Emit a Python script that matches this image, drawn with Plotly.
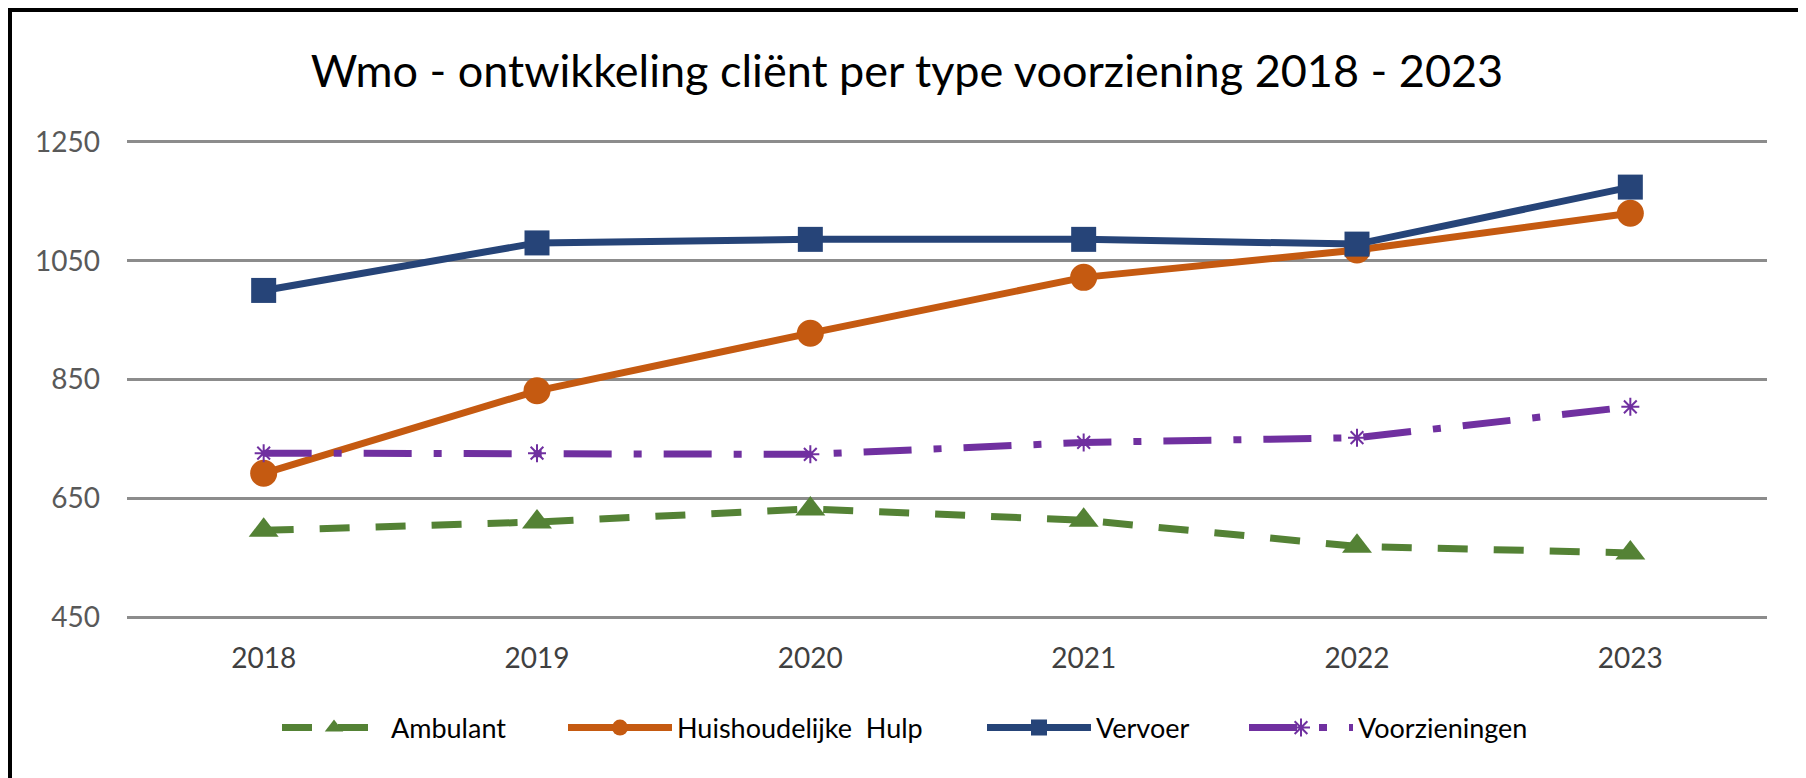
import plotly.graph_objects as go

years = ["2018", "2019", "2020", "2021", "2022", "2023"]
ambulant = [596, 610, 632, 613, 569, 558]
huishoudelijke_hulp = [692, 831, 928, 1022, 1068, 1130]
vervoer = [1000, 1080, 1086, 1086, 1078, 1174]
voorzieningen = [726, 726, 724, 744, 752, 804]
y_ticks = [450, 650, 850, 1050, 1250]

title_text = "Wmo - ontwikkeling cliënt per type voorziening 2018 - 2023"

GREEN = "#548235"
ORANGE = "#C55A11"
BLUE = "#264478"
PURPLE = "#7030A0"
FONT = "Lato"

# the page body has an 8px margin, so the figure starts at screen (8, 8)
OFF = 8
W, H = 1806 - OFF, 778 - OFF
# screen coordinates of the plot area (range 445..1255)
SX0, SX1 = 127, 1767
SY_TOP, SY_BOT = 139, 620
L = SX0 - OFF
R = W - (SX1 - OFF)
T = SY_TOP - OFF
B = H - (SY_BOT - OFF)
PW = SX1 - SX0
PH = SY_BOT - SY_TOP

def px_x(p):
    return (p - SX0) / PW

def px_y(p):
    return (SY_BOT - p) / PH

fig = go.Figure()
fig.add_trace(go.Scatter(
    x=years, y=ambulant, name="Ambulant", mode="lines+markers",
    line=dict(color=GREEN, width=7, dash="30px,26px"),
    marker=dict(symbol="triangle-up", size=26, color=GREEN),
    legend="legend",
))
fig.add_trace(go.Scatter(
    x=years, y=huishoudelijke_hulp, name="Huishoudelijke  Hulp", mode="lines+markers",
    line=dict(color=ORANGE, width=7),
    marker=dict(symbol="circle", size=27, color=ORANGE),
    legend="legend2",
))
fig.add_trace(go.Scatter(
    x=years, y=vervoer, name="Vervoer", mode="lines+markers",
    line=dict(color=BLUE, width=7),
    marker=dict(symbol="square", size=25, color=BLUE),
    legend="legend3",
))
fig.add_trace(go.Scatter(
    x=years, y=voorzieningen, name="Voorzieningen", mode="lines+markers",
    line=dict(color=PURPLE, width=7, dash="48px,22px,8px,22px"),
    marker=dict(symbol="asterisk", size=15, color=PURPLE,
                line=dict(color=PURPLE, width=2)),
    legend="legend4",
))

ITEMW = 104
legend_y = px_y(728)
leg_common = dict(orientation="h", yanchor="middle", y=legend_y, xanchor="left",
                  font=dict(family=FONT, size=27, color="#000000"),
                  bgcolor="rgba(0,0,0,0)", itemwidth=ITEMW)
sym_centers = [331, 617, 1036, 1298]

def leg_x(c):
    return px_x(c - 2 - ITEMW / 2)

fig.update_layout(
    width=W, height=H,
    showlegend=True,
    margin=dict(l=L, r=R, t=T, b=B),
    paper_bgcolor="white", plot_bgcolor="white",
    title=dict(text=title_text, x=0.5, xanchor="center", xref="container",
               y=1 - (71 - OFF) / H, yanchor="middle", yref="container",
               font=dict(family=FONT, size=45, color="#000000")),
    legend=dict(x=leg_x(sym_centers[0]), **leg_common),
    legend2=dict(x=leg_x(sym_centers[1]), **leg_common),
    legend3=dict(x=leg_x(sym_centers[2]), **leg_common),
    legend4=dict(x=leg_x(sym_centers[3]), **leg_common),
    xaxis=dict(type="category", range=[-0.5, 5.5], showgrid=False, showline=False,
               zeroline=False, ticks="", ticklabelstandoff=19,
               tickfont=dict(family=FONT, size=28, color="#404040")),
    yaxis=dict(range=[445, 1255], tickvals=y_ticks, showgrid=True,
               gridcolor="#8C8C8C", gridwidth=3, zeroline=False, showline=False,
               ticks="", ticklabelstandoff=26,
               tickfont=dict(family=FONT, size=28, color="#595959")),
    shapes=[dict(type="rect", xref="paper", yref="paper",
                 x0=px_x(10), x1=px_x(1801), y0=px_y(800), y1=px_y(10),
                 line=dict(color="#000000", width=4), fillcolor="rgba(0,0,0,0)",
                 layer="above")],
)

fig.write_html("out.html")
